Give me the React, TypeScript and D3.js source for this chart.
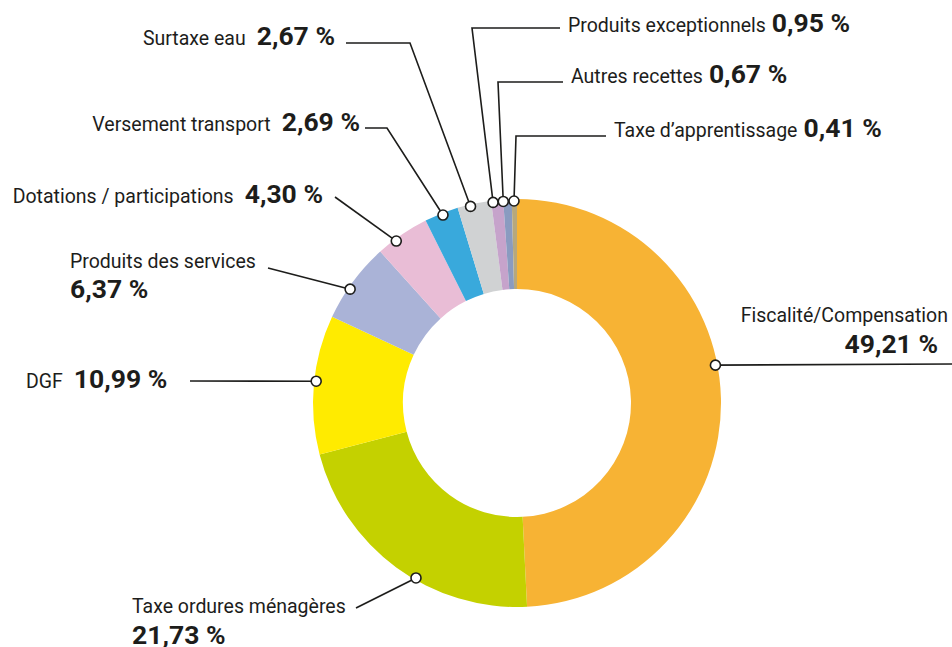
import React from "react";
import * as d3 from "d3";

const categories = [
  "Fiscalité/Compensation",
  "Taxe ordures ménagères",
  "DGF",
  "Produits des services",
  "Dotations / participations",
  "Versement transport",
  "Surtaxe eau",
  "Produits exceptionnels",
  "Autres recettes",
  "Taxe d’apprentissage",
];
const values = [49.21, 21.73, 10.99, 6.37, 4.3, 2.69, 2.67, 0.95, 0.67, 0.41];
const colors = [
  "#F7B334", "#C4D100", "#FFEB00", "#AAB3D7", "#E9BDD6",
  "#39A9DC", "#D0D2D3", "#C6A3CB", "#8A9BC0", "#B7A87C",
];

// label layout (positions only)
type LL = {
  angle: number | null;
  pts: [number, number][];
  mode: "stack" | "inlineStart" | "inlineEnd";
  x: number; y: number; x2?: number; y2?: number; anchor?: string; gap?: number;
};
const layout: LL[] = [
  { angle: 79.2, pts: [[952, 364]], mode: "stack", x: 948, y: 322, x2: 938, y2: 353, anchor: "end" },
  { angle: 210, pts: [[356, 608]], mode: "stack", x: 132, y: 613, x2: 132, y2: 644, anchor: "start" },
  { angle: 276.2, pts: [[190, 381]], mode: "inlineStart", x: 26, y: 388, gap: 11 },
  { angle: 304.3, pts: [[268, 268]], mode: "stack", x: 70, y: 268, x2: 70, y2: 298, anchor: "start" },
  { angle: 323.3, pts: [[335, 197]], mode: "inlineEnd", x: 323, y: 203, gap: 11 },
  { angle: 338.5, pts: [[387, 128], [365, 128]], mode: "inlineEnd", x: 360, y: 131, gap: 11 },
  { angle: 346.7, pts: [[410, 43], [346, 43]], mode: "inlineEnd", x: 335, y: 45, gap: 11 },
  { angle: 353.2, pts: [[472, 28], [560, 28]], mode: "inlineStart", x: 568, y: 32, gap: 6 },
  { angle: 356.1, pts: [[498, 82], [563, 82]], mode: "inlineStart", x: 571, y: 83, gap: 6 },
  { angle: 359.15, pts: [[516, 136], [606, 136]], mode: "inlineStart", x: 614, y: 137, gap: 6 },
];

const W = 952, H = 647;
const cx = 517, cy = 403, R = 204, r = 114;
const fmt = (v: number) => d3.format(".2f")(v).replace(".", ",") + " %";

export default function App() {
  const pie = d3.pie<number>().sort(null).value((d) => d).startAngle(0).endAngle(2 * Math.PI);
  const arcs = pie(values);
  const arc = d3.arc<d3.PieArcDatum<number>>().innerRadius(r).outerRadius(R);
  const font = "Roboto, 'Noto Sans', sans-serif";
  const txt = "#1d1d1b";
  return (
    <svg width={W} height={H} style={{ position: "absolute", left: 0, top: 0 }} fontFamily={font}>
      <rect width={W} height={H} fill="#fff" />
      <g transform={`translate(${cx},${cy})`}>
        {arcs.map((a, i) => (
          <path key={i} d={arc(a) || ""} fill={colors[i]} />
        ))}
      </g>
      {arcs.map((a, i) => {
        const L = layout[i];
        const ang = L.angle != null ? (L.angle * Math.PI) / 180 : (a.startAngle + a.endAngle) / 2;
        const rr = R - 2;
        const dx = cx + rr * Math.sin(ang);
        const dy = cy - rr * Math.cos(ang);
        const line = d3.line()([[dx, dy], ...L.pts]) || "";
        const name = categories[i];
        const val = fmt(values[i]);
        let label: React.ReactNode;
        if (L.mode === "stack") {
          label = (
            <g>
              <text x={L.x} y={L.y} textAnchor={L.anchor} fontSize={19.5} fill={txt}>{name}</text>
              <text x={L.x2} y={L.y2} textAnchor={L.anchor} fontSize={26.5} fontWeight="bold" fill={txt}>{val}</text>
            </g>
          );
        } else {
          label = (
            <text x={L.x} y={L.y} textAnchor={L.mode === "inlineEnd" ? "end" : "start"} fontSize={19.5} fill={txt}>
              <tspan>{name}</tspan>
              <tspan dx={L.gap} fontSize={26.5} fontWeight="bold">{val}</tspan>
            </text>
          );
        }
        return (
          <g key={"l" + i}>
            <path d={line} fill="none" stroke="#1d1d1b" strokeWidth={1.6} />
            <circle cx={dx} cy={dy} r={5} fill="#fff" stroke="#1d1d1b" strokeWidth={1.6} />
            {label}
          </g>
        );
      })}
    </svg>
  );
}
